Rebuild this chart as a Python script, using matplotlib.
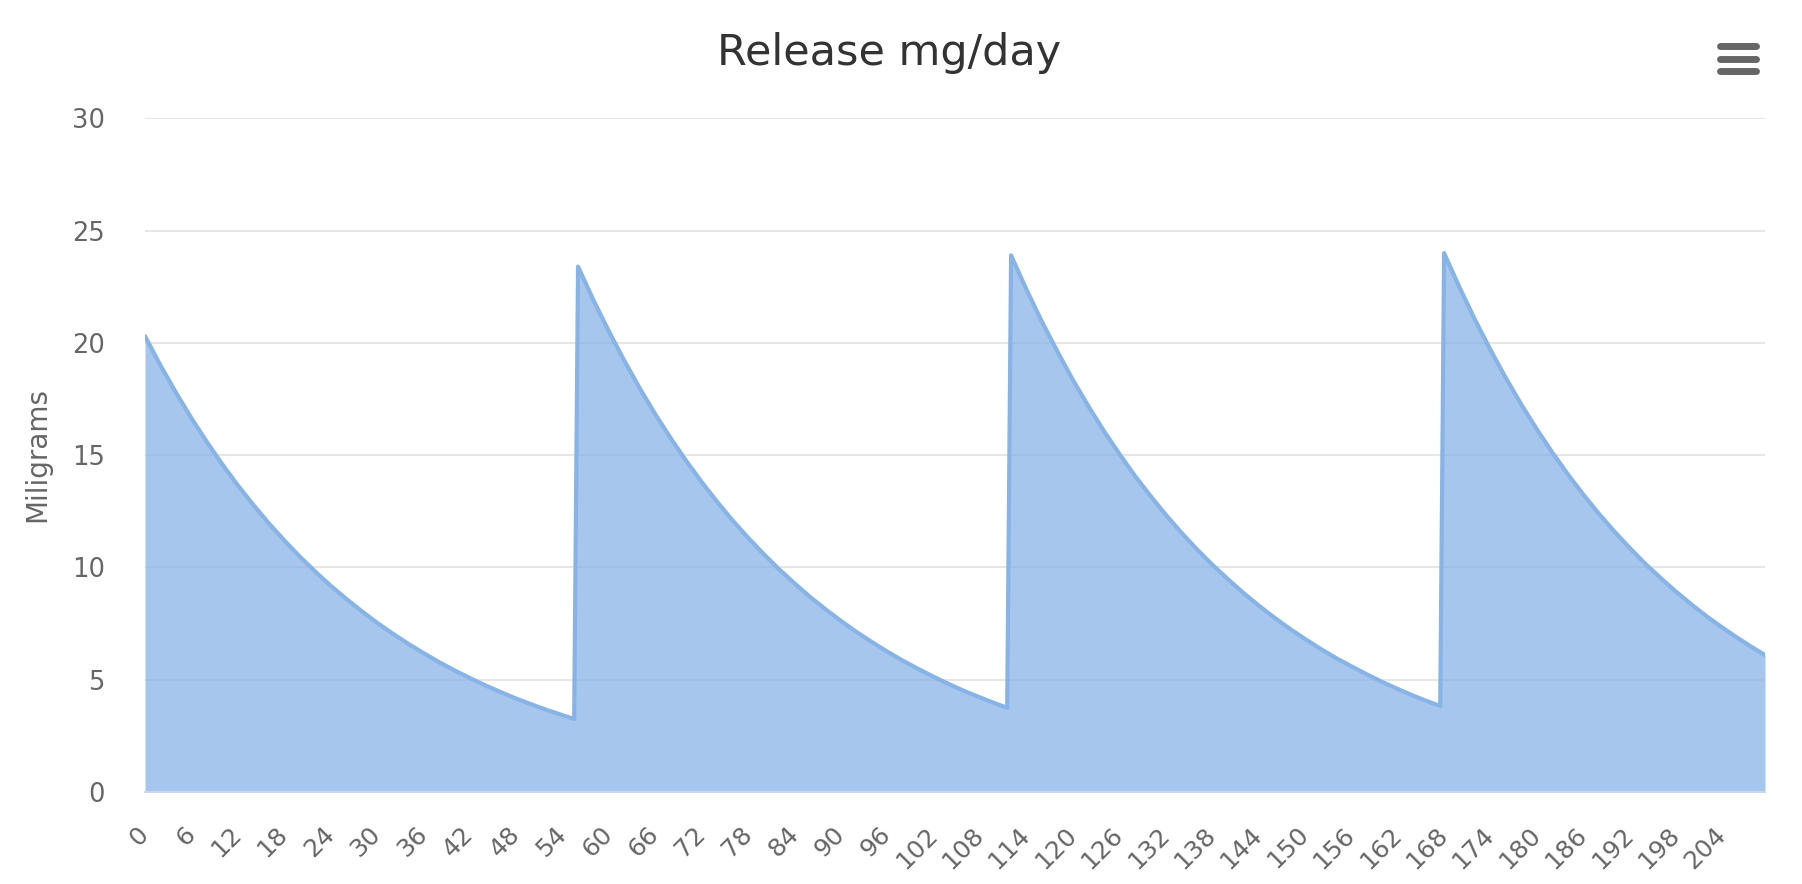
import matplotlib
matplotlib.use("Agg")
import matplotlib.pyplot as plt
from matplotlib.lines import Line2D

# ---- data ----
# cycle 1
days_c1 = list(range(0, 55, 2)) + [55.5]
mg_c1 = [20.3, 19.0, 17.79, 16.65, 15.59, 14.59, 13.66, 12.79, 11.97, 11.21,
         10.49, 9.82, 9.19, 8.61, 8.06, 7.54, 7.06, 6.61, 6.19, 5.79,
         5.42, 5.08, 4.75, 4.45, 4.16, 3.90, 3.65, 3.42, 3.25]
# cycle 2
days_c2 = list(range(56, 111, 2)) + [111.5]
mg_c2 = [23.4, 21.9, 20.51, 19.2, 17.97, 16.82, 15.75, 14.74, 13.8, 12.92,
         12.09, 11.32, 10.6, 9.92, 9.29, 8.69, 8.14, 7.62, 7.13, 6.68,
         6.25, 5.85, 5.48, 5.13, 4.80, 4.49, 4.21, 3.94, 3.75]
# cycle 3
days_c3 = list(range(112, 167, 2)) + [167.5]
mg_c3 = [23.9, 22.37, 20.94, 19.61, 18.35, 17.18, 16.08, 15.06, 14.09, 13.2,
         12.35, 11.56, 10.82, 10.13, 9.49, 8.88, 8.31, 7.78, 7.28, 6.82,
         6.38, 5.97, 5.6, 5.24, 4.9, 4.59, 4.29, 4.02, 3.83]
# cycle 4
days_c4 = list(range(168, 209, 2)) + [209.5]
mg_c4 = [24.0, 22.47, 21.03, 19.69, 18.43, 17.25, 16.15, 15.12, 14.15, 13.25,
         12.4, 11.61, 10.87, 10.17, 9.53, 8.92, 8.35, 7.81, 7.32, 6.85,
         6.41, 6.1]

days = days_c1 + days_c2 + days_c3 + days_c4
mg = mg_c1 + mg_c2 + mg_c3 + mg_c4

x_ticks = list(range(0, 205, 6))
x_tick_labels = [str(v) for v in x_ticks]
y_ticks = [0, 5, 10, 15, 20, 25, 30]

title = "Release mg/day"
y_title = "Miligrams"

# ---- figure ----
W, H = 1802, 884
fig = plt.figure(figsize=(W / 100, H / 100), dpi=100)
fig.patch.set_facecolor("white")

left, right, top, bottom = 145, 1765, 118.4, 792
ax = fig.add_axes([left / W, 1 - bottom / H, (right - left) / W, (bottom - top) / H])

series_color = "#88b3e7"
ax.fill_between(days, mg, 0, color=series_color, alpha=0.75, linewidth=0, zorder=2)
ax.plot(days, mg, color=series_color, linewidth=3.0, solid_joinstyle="round",
        solid_capstyle="round", zorder=3)

ax.set_xlim(0, 209.5)
ax.set_ylim(0, 30)

ax.set_yticks(y_ticks)
ax.set_yticklabels([str(v) for v in y_ticks])
ax.set_xticks(x_ticks)
ax.set_xticklabels(x_tick_labels, rotation=45, ha="right", va="center",
                   rotation_mode="anchor")

ax.tick_params(axis="y", length=0, pad=29, labelsize=18.5, labelcolor="#666666")
ax.tick_params(axis="x", length=0, pad=28, labelsize=18, labelcolor="#666666")

ax.yaxis.grid(True, color="#e6e6e6", linewidth=1.44, zorder=0)
ax.xaxis.grid(False)
ax.set_axisbelow(True)

for s in ["top", "right", "left"]:
    ax.spines[s].set_visible(False)
ax.spines["bottom"].set_color("#ccd6eb")
ax.spines["bottom"].set_linewidth(1.44)
ax.spines["bottom"].set_zorder(4)

# titles
fig.text(889 / W, 1 - 65 / H, title, ha="center", va="baseline",
         fontsize=31, color="#333333")
fig.text(37 / W, 1 - 455 / H, y_title, ha="center", va="center",
         rotation=90, fontsize=20, color="#666666")

# context menu icon
for yc in [46, 58.7, 71.2]:
    fig.add_artist(Line2D([(1717 + 3.4) / W, (1759 - 3.4) / W],
                          [1 - yc / H, 1 - yc / H],
                          color="#666666", linewidth=5.0,
                          solid_capstyle="round", transform=fig.transFigure))

fig.savefig("out.png", dpi=100, facecolor="white")
